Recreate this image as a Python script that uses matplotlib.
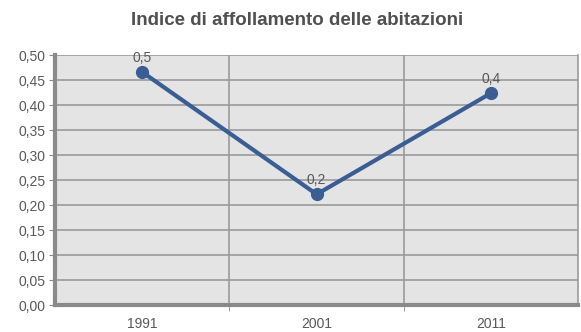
import matplotlib.pyplot as plt
from matplotlib.ticker import MultipleLocator, FuncFormatter

plt.rcParams['font.family'] = ['Liberation Sans', 'DejaVu Sans']

# data
anni = ["1991", "2001", "2011"]
indice = [0.466, 0.222, 0.424]
etichette = ["0,5", "0,2", "0,4"]

fig = plt.figure(figsize=(5.81, 3.32), dpi=100)
ax = fig.add_axes([0.095, 0.08, 0.900, 0.754])
ax.set_facecolor("#e4e4e4")

x = range(len(anni))
ax.plot(x, indice, color="#3a5e94", linewidth=3, marker="o", markersize=8.5, clip_on=False)
for xi, yi, lab in zip(x, indice, etichette):
    ax.text(xi, yi + 0.014, lab, ha="center", va="bottom", fontsize=10, color="#595959")

ax.set_xlim(-0.5, len(anni) - 0.5)
ax.set_ylim(0, 0.5)
ax.yaxis.set_major_locator(MultipleLocator(0.05))
ax.yaxis.set_major_formatter(FuncFormatter(lambda v, p: f"{v:.2f}".replace(".", ",")))
ax.set_xticks(list(x))
ax.set_xticklabels(anni)
ax.set_xticks([0.5, 1.5], minor=True)

ax.grid(True, axis="y", which="major", color="#9a9a9a", linewidth=1.2)
ax.grid(True, axis="x", which="minor", color="#9a9a9a", linewidth=1.2)
ax.set_axisbelow(True)

ax.spines["top"].set_visible(False)
ax.spines["right"].set_color("#9a9a9a")
ax.spines["right"].set_linewidth(1.2)
for s in ["left", "bottom"]:
    ax.spines[s].set_color("#8a8a8a")
    ax.spines[s].set_linewidth(3)

ax.tick_params(axis="y", which="major", length=4, color="#8a8a8a", labelsize=10, labelcolor="#595959", pad=3)
ax.tick_params(axis="x", which="major", length=0, labelsize=10, labelcolor="#595959", pad=8)
ax.tick_params(axis="x", which="minor", length=4, color="#8a8a8a")

fig.text(0.511, 0.937, "Indice di affollamento delle abitazioni", ha="center", va="center",
         fontsize=13.5, fontweight="bold", color="#505050")

fig.savefig("out.png", dpi=100)
